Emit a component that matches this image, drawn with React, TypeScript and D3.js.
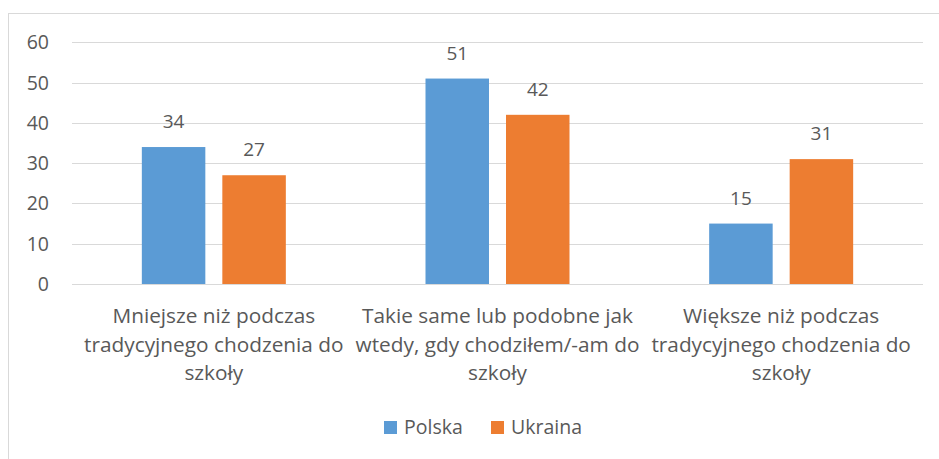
import React from "react";
import * as d3 from "d3";

const categories: string[][] = [
  ["Mniejsze niż podczas", "tradycyjnego chodzenia do", "szkoły"],
  ["Takie same lub podobne jak", "wtedy, gdy chodziłem/-am do", "szkoły"],
  ["Większe niż podczas", "tradycyjnego chodzenia do", "szkoły"],
];
const seriesNames = ["Polska", "Ukraina"];
const polska = [34, 51, 15];
const ukraina = [27, 42, 31];
const yTicks = [0, 10, 20, 30, 40, 50, 60];
const colors = ["#5B9BD5", "#ED7D31"];

const W = 939;
const H = 459;
const FONT = "'Open Sans', sans-serif";
const TEXT = "#595959";

export default function App() {
  const plotLeft = 72;
  const plotRight = 923;
  const y = d3.scaleLinear().domain([0, 60]).range([284, 42.3]);
  const x0 = d3
    .scaleBand<number>()
    .domain(d3.range(categories.length))
    .range([plotLeft, plotRight])
    .paddingInner(0)
    .paddingOuter(0);
  const bw = 63.5;
  const gap = 17;
  const x1 = d3
    .scaleOrdinal<number, number>()
    .domain([0, 1])
    .range([-(bw + gap / 2), gap / 2]);
  const values = [polska, ukraina];

  return (
    <svg
      width={W}
      height={H}
      style={{ position: "absolute", left: 0, top: 0, display: "block" }}
      fontFamily={FONT}
    >
      <rect x={0} y={0} width={W} height={H} fill="#fff" />
      <rect x={8.5} y={13.5} width={W + 20} height={H + 20} fill="none" stroke="#D9D9D9" />
      {yTicks.map((t) => (
        <g key={t}>
          <line
            x1={plotLeft}
            x2={plotRight}
            y1={Math.round(y(t)) + 0.5}
            y2={Math.round(y(t)) + 0.5}
            stroke="#D9D9D9"
            strokeWidth={1}
          />
          <text
            x={49}
            y={y(t) + 7}
            textAnchor="end"
            fontSize={19.5}
            fill={TEXT}
          >
            {t}
          </text>
        </g>
      ))}
      {values.map((vals, s) =>
        vals.map((v, i) => {
          const cx = (x0(i) as number) + x0.bandwidth() / 2;
          const bx = cx + x1(s);
          return (
            <g key={`${s}-${i}`}>
              <rect x={bx} y={y(v)} width={bw} height={y(0) - y(v)} fill={colors[s]} />
              <text
                x={bx + bw / 2}
                y={y(v) - 19}
                textAnchor="middle"
                fontSize={19}
                fill={TEXT}
              >
                {v}
              </text>
            </g>
          );
        })
      )}
      {categories.map((lines, i) => {
        const cx = (x0(i) as number) + x0.bandwidth() / 2;
        return (
          <text key={i} textAnchor="middle" fontSize={20.8} fill={TEXT}>
            {lines.map((l, k) => (
              <tspan key={k} x={cx} y={323 + k * 28.5}>
                {l}
              </tspan>
            ))}
          </text>
        );
      })}
      {seriesNames.map((n, s) => {
        const lx = [384, 491][s];
        return (
          <g key={n}>
            <rect x={lx} y={421} width={13} height={13} fill={colors[s]} />
            <text x={lx + 20} y={434} fontSize={19.5} fill={TEXT}>
              {n}
            </text>
          </g>
        );
      })}
    </svg>
  );
}
